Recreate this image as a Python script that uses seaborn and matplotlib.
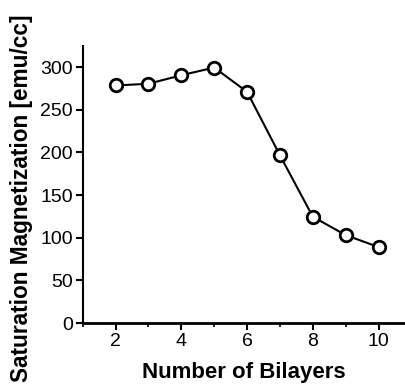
import matplotlib
matplotlib.use("Agg")
import matplotlib.pyplot as plt
import seaborn as sns
import pandas as pd
from matplotlib.ticker import MultipleLocator

bilayers = [2, 3, 4, 5, 6, 7, 8, 9, 10]
magnetization = [278.5, 280.5, 290.5, 299.5, 271, 196.5, 124.5, 103, 89]
x_ticks = [2, 4, 6, 8, 10]
y_ticks = [0, 50, 100, 150, 200, 250, 300]

df = pd.DataFrame({"Bilayers": bilayers, "Ms": magnetization})

sns.set_style("ticks")
plt.rcParams['font.family'] = ['Liberation Sans', 'DejaVu Sans']
plt.rcParams['text.color'] = 'black'
plt.rcParams['axes.labelcolor'] = 'black'

fig = plt.figure(figsize=(4.05, 3.85), dpi=100)
ax = fig.add_axes([0.204, 0.161, 0.796, 0.72])

sns.lineplot(data=df, x="Bilayers", y="Ms", ax=ax, color="black", linewidth=1.5,
             marker="o", markersize=9, markerfacecolor="white",
             markeredgecolor="black", markeredgewidth=2)

ax.set_xlim(1, 10.8)
ax.set_ylim(0, 325)
ax.set_xticks(x_ticks)
ax.set_yticks(y_ticks)
ax.xaxis.set_minor_locator(MultipleLocator(1))
ax.tick_params(axis="both", which="major", direction="out", length=5, width=1.5,
               labelsize=14, color="black", labelcolor="black", pad=2)
ax.tick_params(axis="x", which="minor", direction="out", length=3, width=1.2, color="black")
for s in ["top", "right"]:
    ax.spines[s].set_visible(False)
ax.spines["left"].set_linewidth(1.5)
ax.spines["bottom"].set_linewidth(2)
ax.spines["left"].set_color("black")
ax.spines["bottom"].set_color("black")

ax.set_xlabel("Number of Bilayers", fontsize=16, fontweight="bold", labelpad=9)
ax.set_ylabel("Saturation Magnetization [emu/cc]", fontsize=16.3, fontweight="bold")
ax.yaxis.set_label_coords(-0.155, 0.45)

fig.savefig("out.png", dpi=100)
